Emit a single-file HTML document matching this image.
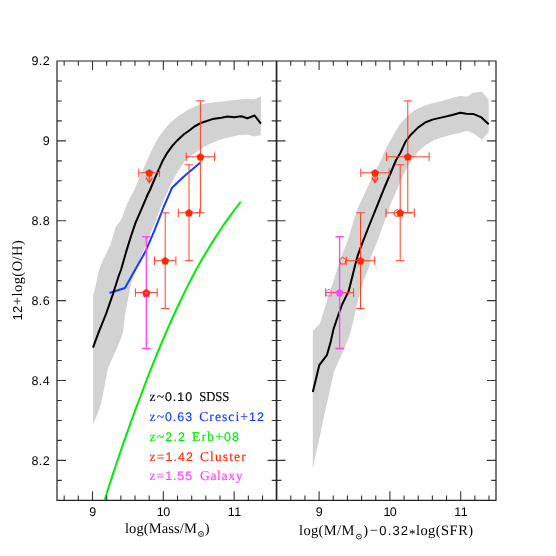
<!DOCTYPE html>
<html><head><meta charset="utf-8"><title>Mass-metallicity relation</title>
<style>
html,body{margin:0;padding:0;background:#fff;}
body{width:556px;height:556px;overflow:hidden;font-family:"Liberation Sans",sans-serif;}
svg{display:block;will-change:transform;text-rendering:geometricPrecision}
.sf{font-family:"Liberation Serif",serif}
.sn{font-family:"Liberation Sans",sans-serif}
</style></head><body>
<svg width="556" height="556" viewBox="0 0 556 556">
<rect width="556" height="556" fill="#fff"/>
<polygon points="93.1,424.2 93.1,296.0 96.1,283.4 98.8,270.8 102.1,261.7 105.7,254.5 110.2,245.5 112.9,236.5 115.6,227.6 121.9,218.6 125.5,207.8 130.0,197.5 134.3,190.0 137.6,181.8 141.9,172.1 146.2,162.4 150.5,152.7 154.8,144.0 159.1,136.5 164.0,130.0 170.4,122.4 179.4,115.2 188.3,109.8 198.0,105.1 207.0,103.3 216.0,102.0 226.8,100.9 237.6,99.7 246.5,98.8 253.7,99.3 260.9,96.6 260.9,135.1 253.7,136.5 248.3,134.7 239.4,135.1 230.4,136.9 221.4,139.2 212.4,142.8 203.4,147.3 194.4,153.6 190.6,155.9 185.6,160.2 181.9,165.6 177.6,172.1 174.4,177.5 171.1,183.9 168.4,190.0 165.3,197.0 159.9,209.6 155.4,222.2 150.0,234.7 145.0,247.3 139.6,259.9 135.4,270.0 133.8,274.4 130.3,287.0 127.6,301.4 124.9,315.8 123.1,331.9 120.4,340.0 114.1,354.4 107.8,368.8 105.1,383.2 102.4,397.6 99.7,408.3 96.1,417.3" fill="#d2d2d2"/>
<polygon points="312.8,469.5 312.8,330.9 319.8,323.7 324.3,309.4 328.8,295.0 334.2,278.8 338.7,264.4 341.7,255.3 346.2,244.5 349.8,233.7 353.4,221.2 357.6,208.6 363.0,196.9 368.4,185.2 374.7,172.6 381.0,160.0 386.8,147.0 394.0,134.0 400.0,124.0 407.2,115.9 414.4,110.5 423.4,106.0 432.4,103.3 441.4,100.9 450.4,98.4 459.4,96.1 467.4,96.6 472.8,92.8 481.8,91.6 488.7,99.7 488.7,132.0 481.8,139.8 475.5,134.7 467.4,130.8 459.4,132.9 450.4,135.1 441.4,137.4 432.4,141.0 425.2,145.5 418.0,151.8 412.6,159.9 410.9,160.0 406.5,169.0 401.1,179.8 395.7,192.4 390.4,205.0 385.9,217.6 381.4,230.1 376.9,242.7 371.5,255.3 369.2,266.2 363.8,280.6 359.4,295.0 355.8,309.4 353.1,321.9 350.3,333.0 347.6,340.8 341.3,355.2 334.1,371.4 330.5,387.6 326.9,403.7 323.4,418.9 319.6,437.8 315.8,454.2" fill="#d2d2d2"/>
<polyline points="240.7,201.9 234.8,209.5 229.2,217.2 223.7,224.8 218.6,232.5 213.6,240.1 208.9,247.7 204.3,255.4 199.9,263.0 195.7,270.6 191.6,278.3 187.7,285.9 183.9,293.6 180.2,301.2 176.6,308.8 173.1,316.5 169.7,324.1 166.3,331.8 163.1,339.4 159.9,347.0 156.7,354.7 153.6,362.3 150.6,369.9 147.6,377.6 144.7,385.2 141.8,392.9 138.9,400.5 136.0,408.1 133.2,415.8 130.4,423.4 127.7,431.1 125.0,438.7 122.3,446.3 119.7,454.0 117.1,461.6 114.5,469.2 112.0,476.9 109.5,484.5 107.1,492.2 104.8,499.8" fill="none" stroke="#00ee00" stroke-width="2" stroke-linejoin="round"/>
<polyline points="109.5,293.0 124.9,288.0 145.3,251.8 154.2,231.2 164.1,206.0 172.2,187.4 185.0,175.4 200.4,162.5" fill="none" stroke="#143cff" stroke-width="2" stroke-linejoin="round"/>
<polyline points="93.0,347.6 98.8,331.9 106.0,314.0 113.2,293.3 118.6,276.2 121.0,270.0 126.4,250.9 130.9,236.5 135.4,223.1 141.7,208.7 147.9,194.0 150.0,190.0 154.8,178.5 158.6,169.9 162.4,161.3 166.7,153.7 172.1,146.2 177.5,140.2 183.9,134.3 190.0,130.0 194.4,126.5 201.6,122.7 212.4,119.1 221.4,117.7 227.7,116.4 234.0,117.3 241.2,116.2 247.4,118.2 254.6,115.5 260.9,123.6" fill="none" stroke="#000" stroke-width="2" stroke-linejoin="round"/>
<polyline points="312.8,392.1 316.1,378.6 319.3,365.1 326.9,355.2 330.5,342.6 333.5,329.1 337.8,316.5 342.3,304.0 348.6,291.4 352.2,277.0 355.8,262.6 357.5,256.2 362.5,242.7 368.8,226.5 376.0,208.6 383.2,190.6 390.4,173.5 396.1,160.0 400.5,152.7 405.4,141.9 410.8,134.7 418.0,127.6 425.2,122.5 432.4,119.6 443.2,117.1 452.2,115.0 460.3,112.8 466.5,113.7 473.7,114.1 480.9,117.1 488.7,124.3" fill="none" stroke="#000" stroke-width="2" stroke-linejoin="round"/>
<path d="M146.3 236.7V348.5M142.1 236.7H150.5M142.1 348.5H150.5" stroke="#ff44ff" stroke-width="1.3" fill="none"/><path d="M135.4 292.6H157.2M135.4 288.4V296.8M157.2 288.4V296.8" stroke="#ff4020" stroke-width="1.0" fill="none"/>
<path d="M200.4 100.9V212.8M196.2 100.9H204.6M196.2 212.8H204.6" stroke="#ff4020" stroke-width="1.0" fill="none"/><path d="M186.2 156.8H214.6M186.2 152.6V161.0M214.6 152.6V161.0" stroke="#ff4020" stroke-width="1.0" fill="none"/>
<path d="M189.0 164.8V260.7M184.8 164.8H193.2M184.8 260.7H193.2" stroke="#ff4020" stroke-width="1.0" fill="none"/><path d="M178.3 212.8H199.7M178.3 208.6V217.0M199.7 208.6V217.0" stroke="#ff4020" stroke-width="1.0" fill="none"/>
<path d="M165.2 212.8V308.6M161.0 212.8H169.4M161.0 308.6H169.4" stroke="#ff4020" stroke-width="1.0" fill="none"/><path d="M154.5 260.7H175.9M154.5 256.5V264.9M175.9 256.5V264.9" stroke="#ff4020" stroke-width="1.0" fill="none"/>
<path d="M138.8 172.8H159.6M138.8 168.6V177.0M159.6 168.6V177.0" stroke="#ff4020" stroke-width="1.0" fill="none"/>
<path d="M149.2 172.8V182.4M145.9 177.6L149.2 182.6L152.5 177.6" stroke="#ff4020" stroke-width="1.3" fill="none"/>
<polygon points="146.3,289.7 150.4,292.7 148.8,297.5 143.8,297.5 142.2,292.7" fill="#ff44ff"/>
<polygon points="200.4,152.9 204.4,155.8 202.9,160.6 197.9,160.6 196.4,155.8" fill="#ff2a00"/>
<polygon points="189.0,208.8 193.0,211.7 191.5,216.5 186.5,216.5 185.0,211.7" fill="#ff2a00"/>
<polygon points="165.2,256.7 169.2,259.7 167.7,264.4 162.7,264.4 161.2,259.7" fill="#ff2a00"/>
<polygon points="149.2,168.9 153.2,171.8 151.7,176.6 146.7,176.6 145.2,171.8" fill="#ff2a00"/>
<polygon points="146.3,288.7 150.3,291.6 148.8,296.4 143.8,296.4 142.3,291.6" fill="#ff2a00"/>
<circle cx="146.3" cy="292.8" r="1.3" fill="#ff44ff"/>
<path d="M339.6 236.7V348.5M335.4 236.7H343.8M335.4 348.5H343.8" stroke="#ff44ff" stroke-width="1.3" fill="none"/><path d="M325.6 292.6H353.6M325.6 288.4V296.8M353.6 288.4V296.8" stroke="#ff4020" stroke-width="1.0" fill="none"/>
<path d="M407.8 100.9V212.8M403.6 100.9H412.0M403.6 212.8H412.0" stroke="#ff4020" stroke-width="1.0" fill="none"/><path d="M386.5 156.8H429.1M386.5 152.6V161.0M429.1 152.6V161.0" stroke="#ff4020" stroke-width="1.0" fill="none"/>
<path d="M400.2 164.8V260.7M396.0 164.8H404.4M396.0 260.7H404.4" stroke="#ff4020" stroke-width="1.0" fill="none"/><path d="M386.0 212.8H414.4M386.0 208.6V217.0M414.4 208.6V217.0" stroke="#ff4020" stroke-width="1.0" fill="none"/>
<path d="M360.5 212.8V308.6M356.3 212.8H364.7M356.3 308.6H364.7" stroke="#ff4020" stroke-width="1.0" fill="none"/><path d="M346.3 260.7H374.7M346.3 256.5V264.9M374.7 256.5V264.9" stroke="#ff4020" stroke-width="1.0" fill="none"/>
<path d="M360.8 172.8H389.2M360.8 168.6V177.0M389.2 168.6V177.0" stroke="#ff4020" stroke-width="1.0" fill="none"/>
<path d="M375.0 172.8V182.4M371.7 177.6L375.0 182.6L378.3 177.6" stroke="#ff4020" stroke-width="1.3" fill="none"/>
<polygon points="407.8,152.9 411.8,155.8 410.3,160.6 405.3,160.6 403.8,155.8" fill="#ff2a00"/>
<polygon points="400.2,208.8 404.2,211.7 402.7,216.5 397.7,216.5 396.2,211.7" fill="#ff2a00"/>
<polygon points="360.5,256.7 364.5,259.7 363.0,264.4 358.0,264.4 356.5,259.7" fill="#ff2a00"/>
<polygon points="375.0,168.9 379.0,171.8 377.5,176.6 372.5,176.6 371.0,171.8" fill="#ff2a00"/>
<polygon points="339.6,288.7 343.6,291.6 342.1,296.4 337.1,296.4 335.6,291.6" fill="#ff44ff"/>
<polygon points="397.3,209.4 400.8,211.9 399.5,216.1 395.1,216.1 393.8,211.9" fill="none" stroke="#ff2a00" stroke-width="0.9"/>
<polygon points="342.7,257.3 346.2,259.8 344.9,264.0 340.5,264.0 339.2,259.8" fill="none" stroke="#ff2a00" stroke-width="0.9"/>
<polygon points="375.0,175.3 377.7,177.3 376.6,180.4 373.4,180.4 372.3,177.3" fill="none" stroke="#ff4020" stroke-width="0.9"/>
<polygon points="329.0,289.2 332.5,291.8 331.2,295.9 326.8,295.9 325.5,291.8" fill="none" stroke="#ff44ff" stroke-width="0.9"/>
<path d="M57.0 480.33h4.8M271.7 480.33h9.6M496.0 480.33h-4.8 M57.0 460.36h9.0M267.5 460.36h18.0M496.0 460.36h-9.0 M57.0 440.40h4.8M271.7 440.40h9.6M496.0 440.40h-4.8 M57.0 420.43h4.8M271.7 420.43h9.6M496.0 420.43h-4.8 M57.0 400.46h4.8M271.7 400.46h9.6M496.0 400.46h-4.8 M57.0 380.49h9.0M267.5 380.49h18.0M496.0 380.49h-9.0 M57.0 360.52h4.8M271.7 360.52h9.6M496.0 360.52h-4.8 M57.0 340.55h4.8M271.7 340.55h9.6M496.0 340.55h-4.8 M57.0 320.59h4.8M271.7 320.59h9.6M496.0 320.59h-4.8 M57.0 300.62h9.0M267.5 300.62h18.0M496.0 300.62h-9.0 M57.0 280.65h4.8M271.7 280.65h9.6M496.0 280.65h-4.8 M57.0 260.68h4.8M271.7 260.68h9.6M496.0 260.68h-4.8 M57.0 240.71h4.8M271.7 240.71h9.6M496.0 240.71h-4.8 M57.0 220.75h9.0M267.5 220.75h18.0M496.0 220.75h-9.0 M57.0 200.78h4.8M271.7 200.78h9.6M496.0 200.78h-4.8 M57.0 180.81h4.8M271.7 180.81h9.6M496.0 180.81h-4.8 M57.0 160.84h4.8M271.7 160.84h9.6M496.0 160.84h-4.8 M57.0 140.87h9.0M267.5 140.87h18.0M496.0 140.87h-9.0 M57.0 120.90h4.8M271.7 120.90h9.6M496.0 120.90h-4.8 M57.0 100.94h4.8M271.7 100.94h9.6M496.0 100.94h-4.8 M57.0 80.97h4.8M271.7 80.97h9.6M496.0 80.97h-4.8 M64.16 61.0v4.8M64.16 500.3v-4.8 M78.33 61.0v4.8M78.33 500.3v-4.8 M92.50 61.0v9.0M92.50 500.3v-9.0 M106.67 61.0v4.8M106.67 500.3v-4.8 M120.84 61.0v4.8M120.84 500.3v-4.8 M135.00 61.0v4.8M135.00 500.3v-4.8 M149.17 61.0v4.8M149.17 500.3v-4.8 M163.34 61.0v9.0M163.34 500.3v-9.0 M177.51 61.0v4.8M177.51 500.3v-4.8 M191.68 61.0v4.8M191.68 500.3v-4.8 M205.84 61.0v4.8M205.84 500.3v-4.8 M220.01 61.0v4.8M220.01 500.3v-4.8 M234.18 61.0v9.0M234.18 500.3v-9.0 M248.35 61.0v4.8M248.35 500.3v-4.8 M262.52 61.0v4.8M262.52 500.3v-4.8 M290.78 61.0v4.8M290.78 500.3v-4.8 M304.94 61.0v4.8M304.94 500.3v-4.8 M319.10 61.0v9.0M319.10 500.3v-9.0 M333.26 61.0v4.8M333.26 500.3v-4.8 M347.42 61.0v4.8M347.42 500.3v-4.8 M361.58 61.0v4.8M361.58 500.3v-4.8 M375.74 61.0v4.8M375.74 500.3v-4.8 M389.90 61.0v9.0M389.90 500.3v-9.0 M404.06 61.0v4.8M404.06 500.3v-4.8 M418.22 61.0v4.8M418.22 500.3v-4.8 M432.38 61.0v4.8M432.38 500.3v-4.8 M446.54 61.0v4.8M446.54 500.3v-4.8 M460.70 61.0v9.0M460.70 500.3v-9.0 M474.86 61.0v4.8M474.86 500.3v-4.8 M489.02 61.0v4.8M489.02 500.3v-4.8" stroke="#333" stroke-width="1.1" fill="none"/>
<path d="M57.0 61.0H496.0V500.3H57.0Z M276.3 61.0V500.3 M276.8 61.0V500.3" stroke="#222" stroke-width="1.2" fill="none"/>
<text x="49.7" y="65.4" text-anchor="end" font-family="Liberation Sans, sans-serif" font-size="12.5" textLength="18.3" lengthAdjust="spacing">9.2</text>
<text x="49.7" y="145.3" text-anchor="end" font-family="Liberation Sans, sans-serif" font-size="12.5">9</text>
<text x="49.7" y="225.1" text-anchor="end" font-family="Liberation Sans, sans-serif" font-size="12.5" textLength="18.3" lengthAdjust="spacing">8.8</text>
<text x="49.7" y="305.0" text-anchor="end" font-family="Liberation Sans, sans-serif" font-size="12.5" textLength="18.3" lengthAdjust="spacing">8.6</text>
<text x="49.7" y="384.9" text-anchor="end" font-family="Liberation Sans, sans-serif" font-size="12.5" textLength="18.3" lengthAdjust="spacing">8.4</text>
<text x="49.7" y="464.8" text-anchor="end" font-family="Liberation Sans, sans-serif" font-size="12.5" textLength="18.3" lengthAdjust="spacing">8.2</text>
<text x="92.7" y="516.1" text-anchor="middle" font-family="Liberation Sans, sans-serif" font-size="12.5">9</text>
<text x="319.3" y="516.1" text-anchor="middle" font-family="Liberation Sans, sans-serif" font-size="12.5">9</text>
<text x="163.5" y="516.1" text-anchor="middle" font-family="Liberation Sans, sans-serif" font-size="12.5" textLength="13.4" lengthAdjust="spacing">10</text>
<text x="390.1" y="516.1" text-anchor="middle" font-family="Liberation Sans, sans-serif" font-size="12.5" textLength="13.4" lengthAdjust="spacing">10</text>
<text x="234.4" y="516.1" text-anchor="middle" font-family="Liberation Sans, sans-serif" font-size="12.5" textLength="13.4" lengthAdjust="spacing">11</text>
<text x="460.9" y="516.1" text-anchor="middle" font-family="Liberation Sans, sans-serif" font-size="12.5" textLength="13.4" lengthAdjust="spacing">11</text>
<g class="sf" font-size="14.5" fill="#000">
<text x="124.9" y="532.9" textLength="71.9" lengthAdjust="spacing">log(Mass/M</text>
<circle cx="201" cy="534" r="2.5" fill="none" stroke="#000" stroke-width="0.8"/><circle cx="201" cy="534" r="0.7" fill="#000"/>
<text x="204.7" y="532.9">)</text>
<text x="299" y="534.5" textLength="55.4" lengthAdjust="spacing">log(M/M</text>
<circle cx="358.9" cy="536.6" r="2.5" fill="none" stroke="#000" stroke-width="0.8"/><circle cx="358.9" cy="536.6" r="0.7" fill="#000"/>
<text x="363.2" y="534.5">)</text>
<text x="369.8" y="534.5">−</text><text x="379.3" y="534.5" class="sn" font-size="13" textLength="28.7" lengthAdjust="spacing">0.32</text><text x="408.9" y="537.5" font-size="13">*</text><text x="415.9" y="534.5" textLength="57.2" lengthAdjust="spacing">log(SFR)</text>
<text transform="translate(21.6,320.6) rotate(-90)" textLength="80.5" lengthAdjust="spacing"><tspan class="sn" font-size="13">12</tspan>+log(O/H)</text>
</g>
<g class="sf" font-size="13.6">
<g fill="#000" stroke="#000" stroke-width="0.15"><text x="149.6" y="400.8" textLength="42.5" lengthAdjust="spacing">z~<tspan class="sn" font-size="12.4">0.10</tspan></text><text x="199.2" y="400.8" textLength="30.2" lengthAdjust="spacingAndGlyphs">SDSS</text></g>
<g fill="#143cff" stroke="#143cff" stroke-width="0.15"><text x="149.6" y="420.7" textLength="42.5" lengthAdjust="spacing">z~<tspan class="sn" font-size="12.4">0.63</tspan></text><text x="199.2" y="420.7" textLength="64.7" lengthAdjust="spacing">Cresci+<tspan class="sn" font-size="12.4">12</tspan></text></g>
<g fill="#00ee00" stroke="#00ee00" stroke-width="0.15"><text x="149.6" y="440.6" textLength="35.2" lengthAdjust="spacing">z~<tspan class="sn" font-size="12.4">2.2</tspan></text><text x="192.1" y="440.6" textLength="46.9" lengthAdjust="spacing">Erb+<tspan class="sn" font-size="12.4">08</tspan></text></g>
<g fill="#ff2a00" stroke="#ff2a00" stroke-width="0.15"><text x="149.6" y="460.5" textLength="43.3" lengthAdjust="spacing">z=<tspan class="sn" font-size="12.4">1.42</tspan></text><text x="199.9" y="460.5" textLength="45.9" lengthAdjust="spacing">Cluster</text></g>
<g fill="#ff44ff" stroke="#ff44ff" stroke-width="0.15"><text x="149.6" y="480.4" textLength="42.5" lengthAdjust="spacing">z=<tspan class="sn" font-size="12.4">1.55</tspan></text><text x="199.9" y="480.4" textLength="42.6" lengthAdjust="spacing">Galaxy</text></g>
</g>

</svg>
</body></html>
